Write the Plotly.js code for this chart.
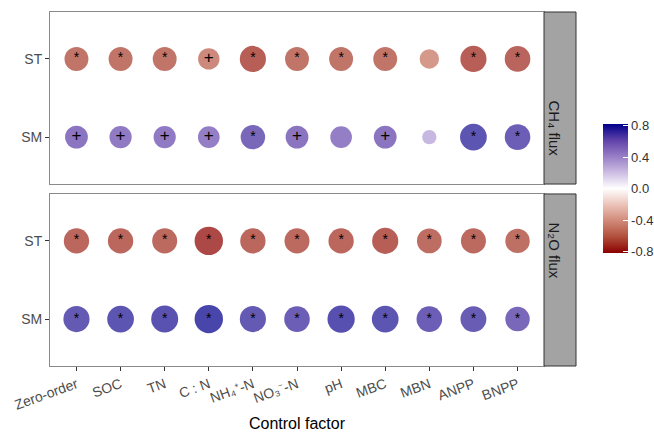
<!DOCTYPE html>
<html><head><meta charset="utf-8">
<script src="https://cdn.plot.ly/plotly-3.0.1.min.js"></script>
<style>html,body{margin:0;padding:0;background:#fff}#chart{width:654px;height:432px}</style>
</head><body><div id="chart"></div>
<script>
// categories
const factors = ['Zero-order','SOC','TN','C : N','NH₄⁺-N','NO₃⁻-N','pH','MBC','MBN','ANPP','BNPP'];
const rows = ['SM','ST'];
const fluxes = ['CH₄ flux','N₂O flux'];
// correlation values
const ch4_ST = [-0.64,-0.64,-0.64,-0.55,-0.72,-0.64,-0.64,-0.64,-0.48,-0.72,-0.70];
const ch4_SM = [0.60,0.58,0.58,0.56,0.66,0.60,0.56,0.60,0.30,0.74,0.70];
const n2o_ST = [-0.69,-0.69,-0.68,-0.80,-0.69,-0.68,-0.69,-0.72,-0.67,-0.68,-0.66];
const n2o_SM = [0.72,0.74,0.75,0.80,0.72,0.70,0.76,0.74,0.70,0.71,0.66];
// significance labels
const ch4_ST_sig = ['*','*','*','+','*','*','*','*','','*','*'];
const ch4_SM_sig = ['+','+','+','+','*','+','','+','','*','*'];
const n2o_ST_sig = ['*','*','*','*','*','*','*','*','*','*','*'];
const n2o_SM_sig = ['*','*','*','*','*','*','*','*','*','*','*'];
// colour bar ticks
const cbTicks = [0.8,0.4,0.0,-0.4,-0.8];
const cbTickText = ['0.8','0.4','0.0','-0.4','-0.8'];

const sizeOf = r => 6 + 28*Math.abs(r);
const FONT = 'Liberation Sans, Arial, sans-serif';

const panels = [
  {xa:'x', ya:'y', data:{ST:ch4_ST, SM:ch4_SM}, sig:{ST:ch4_ST_sig, SM:ch4_SM_sig}},
  {xa:'x2', ya:'y2', data:{ST:n2o_ST, SM:n2o_SM}, sig:{ST:n2o_ST_sig, SM:n2o_SM_sig}}
];
const traces = [];
panels.forEach(p => {
  ['ST','SM'].forEach(row => {
    const vals = p.data[row];
    traces.push({
      type:'scatter', mode:'markers', xaxis:p.xa, yaxis:p.ya,
      x:factors, y:factors.map(()=>row),
      marker:{color:vals, coloraxis:'coloraxis', size:vals.map(sizeOf), opacity:0.74, line:{width:0}},
      showlegend:false, hoverinfo:'skip'
    });
    const sg = p.sig[row];
    traces.push({
      type:'scatter', mode:'text', xaxis:p.xa, yaxis:p.ya,
      x:factors, y:factors.map(()=>row),
      text:sg, textposition:'middle center',
      textfont:{family:FONT, size:sg.map(s=>s==='+'?17:14), color:'#000'},
      showlegend:false, hoverinfo:'skip'
    });
  });
});

const yaxisBase = {
  type:'category', categoryarray:rows, range:[-0.6,1.6],
  showline:true, mirror:true, linecolor:'#8a8a8a', linewidth:1,
  ticks:'outside', ticklen:4, tickcolor:'#333', showgrid:false, zeroline:false,
  tickfont:{family:FONT, size:14, color:'#4d4d4d'}
};
const xaxisBase = {
  type:'category', categoryarray:factors, range:[-0.6,10.6],
  showline:true, mirror:true, linecolor:'#8a8a8a', linewidth:1,
  showgrid:false, zeroline:false
};
const stripW = 32/494;
const layout = {
  width:654, height:432,
  margin:{l:50, r:110, t:12, b:66, autoexpand:false},
  paper_bgcolor:'#fff', plot_bgcolor:'#fff',
  font:{family:FONT},
  xaxis:Object.assign({}, xaxisBase, {anchor:'y', showticklabels:false, ticks:''}),
  xaxis2:Object.assign({}, xaxisBase, {anchor:'y2', matches:'x', ticks:'outside', ticklen:4, tickcolor:'#333',
    tickangle:-20, tickfont:{family:FONT, size:14, color:'#4d4d4d'},
    title:{text:'Control factor', font:{family:FONT, size:16, color:'#000'}, standoff:6}}),
  yaxis:Object.assign({}, yaxisBase, {domain:[0.514,1], anchor:'x'}),
  yaxis2:Object.assign({}, yaxisBase, {domain:[0,0.486], anchor:'x2'}),
  coloraxis:{
    cmin:-0.82, cmax:0.82,
    colorscale:[
      [0,'#8B0000'],[0.125,'#B14F3B'],[0.25,'#D18978'],[0.375,'#EBC3B9'],[0.5,'#FFFFFF'],
      [0.625,'#CCBCE3'],[0.75,'#977DC6'],[0.875,'#5F41A9'],[1,'#00008B']
    ],
    colorbar:{
      x:1.119, xanchor:'left', y:0.501, yanchor:'middle', len:0.364, lenmode:'fraction',
      thickness:25, outlinewidth:0, xpad:0, ypad:0,
      tickvals:cbTicks, ticktext:cbTickText, ticks:'inside', ticklen:5, tickcolor:'#fff',
      tickfont:{family:FONT, size:13, color:'#333'}
    }
  },
  shapes:[
    {type:'rect', xref:'paper', yref:'paper', x0:1, x1:1+stripW, y0:0.514, y1:1, fillcolor:'#a3a3a3', line:{color:'#333', width:1}},
    {type:'rect', xref:'paper', yref:'paper', x0:1, x1:1+stripW, y0:0, y1:0.486, fillcolor:'#a3a3a3', line:{color:'#333', width:1}}
  ],
  annotations:[
    {xref:'paper', yref:'paper', x:1+stripW/2, y:0.757, text:fluxes[0], showarrow:false, textangle:90, xshift:5,
     font:{family:FONT, size:15, color:'#1a1a1a'}},
    {xref:'paper', yref:'paper', x:1+stripW/2, y:0.243, text:fluxes[1], showarrow:false, textangle:90, xshift:5,
     font:{family:FONT, size:15, color:'#1a1a1a'}}
  ]
};
Plotly.newPlot('chart', traces, layout, {displayModeBar:false, staticPlot:true});
</script>
</body></html>
